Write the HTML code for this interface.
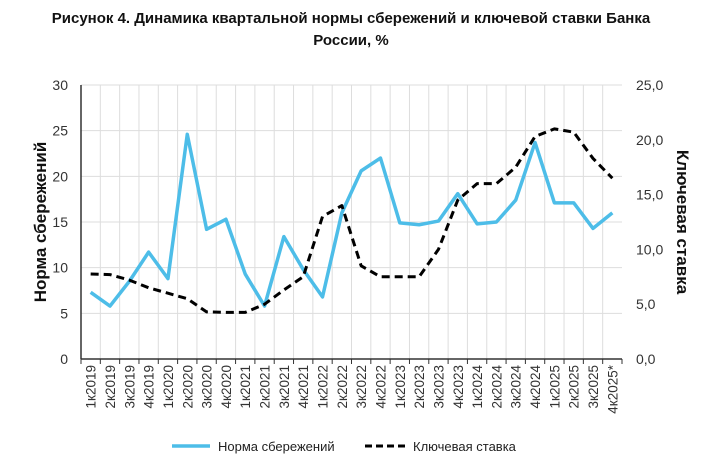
<!DOCTYPE html>
<html><head><meta charset="utf-8"><style>
body{margin:0;background:#fff;font-family:"Liberation Sans",sans-serif;}
svg text{font-family:"Liberation Sans",sans-serif;}
</style></head><body>
<svg width="702" height="463" id="c">
<text x="351" y="23" text-anchor="middle" font-size="15" font-weight="bold" fill="#111">Рисунок 4. Динамика квартальной нормы сбережений и ключевой ставки Банка</text>
<text x="351" y="45" text-anchor="middle" font-size="15" font-weight="bold" fill="#111">России, %</text>
<text transform="translate(46,222) rotate(-90)" text-anchor="middle" font-size="17" font-weight="bold" fill="#111">Норма сбережений</text>
<text transform="translate(677,222) rotate(90)" text-anchor="middle" font-size="17" font-weight="bold" fill="#111">Ключевая ставка</text>
<g id="g"></g>
<line x1="172" y1="446" x2="210" y2="446" stroke="#4dbde8" stroke-width="3.5"/>
<text x="218" y="451" font-size="13" fill="#222">Норма сбережений</text>
<line x1="365" y1="446" x2="405" y2="446" stroke="#000" stroke-width="3" stroke-dasharray="7,4"/>
<text x="413" y="451" font-size="13" fill="#222">Ключевая ставка</text>
</svg>
<script>
const categories=["1к2019","2к2019","3к2019","4к2019","1к2020","2к2020","3к2020","4к2020","1к2021","2к2021","3к2021","4к2021","1к2022","2к2022","3к2022","4к2022","1к2023","2к2023","3к2023","4к2023","1к2024","2к2024","3к2024","4к2024","1к2025","2к2025","3к2025","4к2025*"];
const savings=[7.3,5.8,8.5,11.7,8.8,24.6,14.2,15.3,9.3,5.8,13.4,9.8,6.8,16,20.6,22,14.9,14.7,15.1,18.1,14.8,15,17.4,23.7,17.1,17.1,14.3,16];
const keyRate=[7.75,7.7,7.2,6.5,6.0,5.5,4.3,4.25,4.25,5.0,6.3,7.5,13,14,8.5,7.5,7.5,7.5,10.0,14.5,16,16,17.5,20.3,21,20.7,18.3,16.5];
const leftTicks=[0,5,10,15,20,25,30];
const rightTicks=["0,0","5,0","10,0","15,0","20,0","25,0"];
const L=81,R=622,T=85,B=359,n=categories.length,bw=(R-L)/n;
const xs=i=>L+bw*(i+0.5), yl=v=>B-(v/30)*(B-T), yr=v=>B-(v/25)*(B-T);
const g=document.getElementById('g'),NS="http://www.w3.org/2000/svg";
function mk(t,a,p){const e=document.createElementNS(NS,t);for(const k in a)e.setAttribute(k,a[k]);(p||g).appendChild(e);return e;}
for(let i=1;i<n;i++){const e=mk('line',{x1:L+bw*i,x2:L+bw*i,y1:T,y2:B,stroke:'#ddd'});

}
leftTicks.forEach(v=>{const e=mk('line',{x1:L,x2:R,y1:yl(v),y2:yl(v),stroke:'#ddd'});


const t=mk('text',{x:L-13,y:yl(v)+5,'text-anchor':'end','font-size':14,fill:'#333'});t.textContent=v;

});
rightTicks.forEach((s,i)=>{const t=mk('text',{x:R+14,y:yr(i*5)+5,'font-size':14,fill:'#333'});t.textContent=s;

});
let ax=mk('line',{x1:L,x2:L,y1:T,y2:B,stroke:'#333','stroke-width':1.5});


ax=mk('line',{x1:L,x2:R,y1:B,y2:B,stroke:'#333','stroke-width':1.5});


for(let i=0;i<=n;i++){const e=mk('line',{x1:L+bw*i,x2:L+bw*i,y1:B,y2:B+5,stroke:'#333'});

}
categories.forEach((c,i)=>{const t=mk('text',{transform:`translate(${xs(i)+5},${B+6}) rotate(-90)`,'text-anchor':'end','font-size':13.5,fill:'#333'});t.textContent=c;

});
const p1=mk('polyline',{points:savings.map((v,i)=>xs(i)+','+yl(v)).join(' '),fill:'none',stroke:'#4dbde8','stroke-width':3.5,'stroke-linejoin':'round'});


const p2=mk('polyline',{points:keyRate.map((v,i)=>xs(i)+','+yr(v)).join(' '),fill:'none',stroke:'#000','stroke-width':3,'stroke-dasharray':'8,5','stroke-linejoin':'round'});


</script>
</body></html>
